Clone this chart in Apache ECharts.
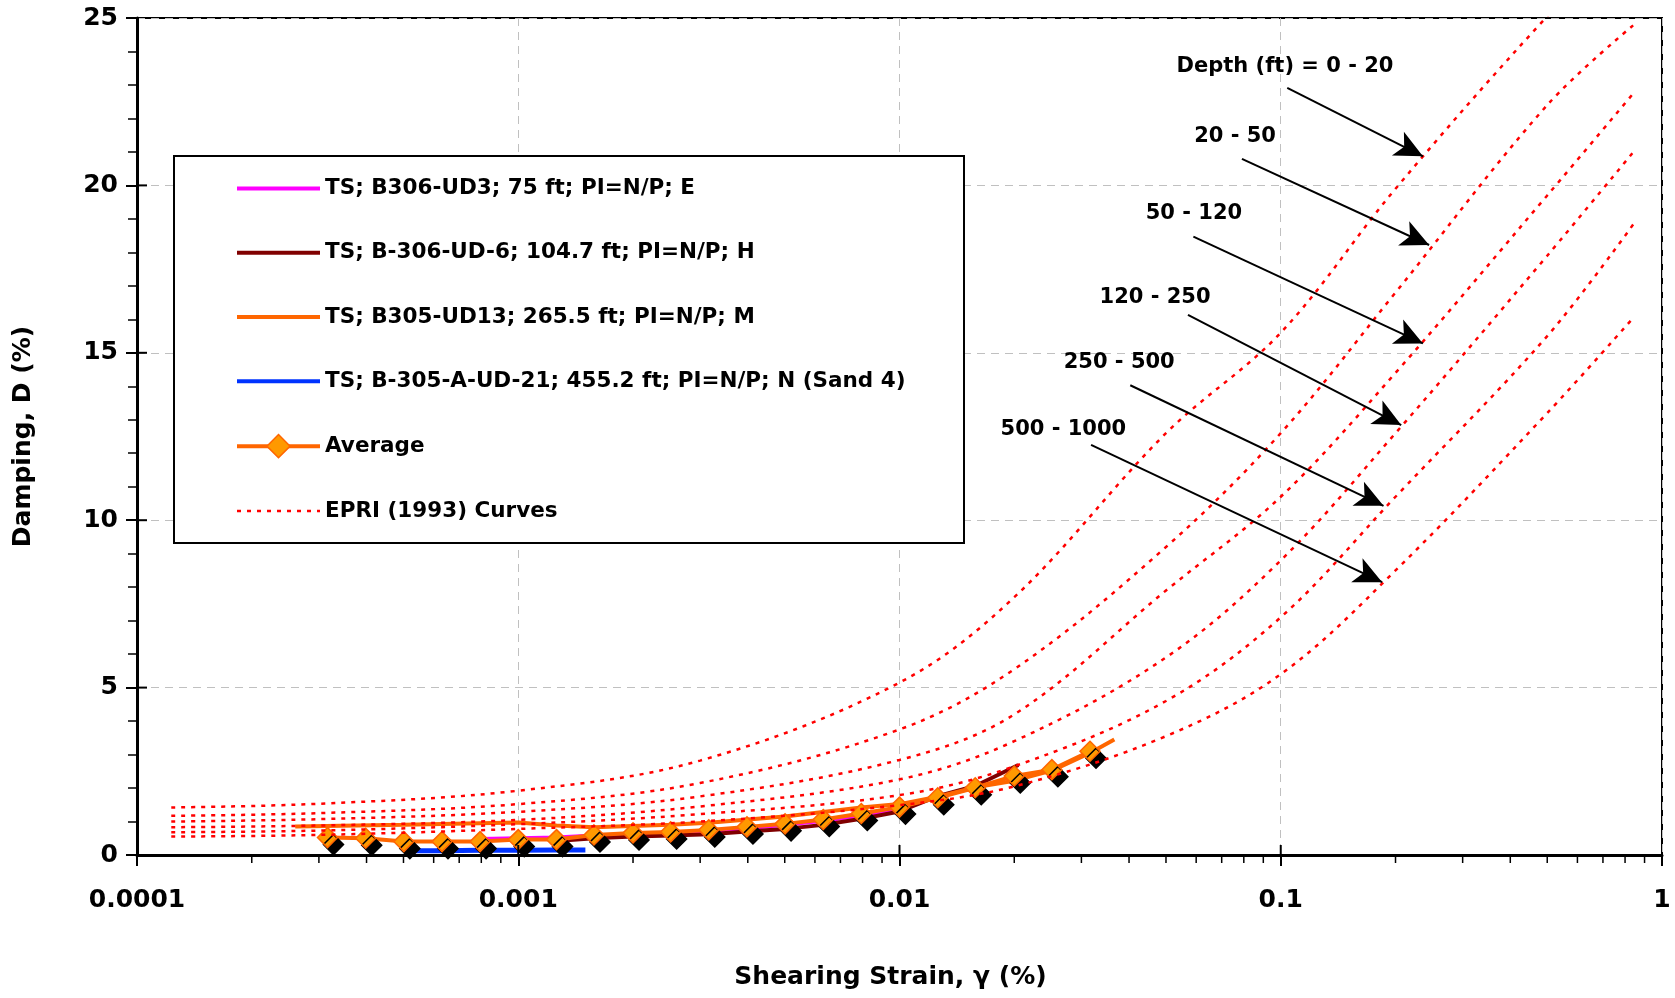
<!DOCTYPE html>
<html><head><meta charset="utf-8">
<script src="https://cdn.jsdelivr.net/npm/echarts@6/dist/echarts.min.js"></script>
<style>html,body{margin:0;padding:0;background:#fff;}#c{width:1675px;height:998px;}</style>
</head><body><div id="c"></div>
<script>
// ---------- tick labels ----------
const xTickLabels = ['0.0001', '0.001', '0.01', '0.1', '1'];

// ---------- EPRI (1993) curves ----------
const epriStrain      = [0.000123, 0.0003, 0.001, 0.003, 0.01, 0.02, 0.05, 0.1, 0.2, 0.5, 0.84];
const epriDepth0_20   = [1.42, 1.53, 1.92, 2.82, 5.15, 7.7, 12.6, 15.6, 19.9, 25.05, 27.6];
const epriDepth20_50  = [1.17, 1.25, 1.52, 2.15, 3.75, 5.55, 9.2, 12.6, 16.8, 22.4, 24.78];
const epriDepth50_120 = [1.00, 1.07, 1.29, 1.75, 2.84, 4.2, 7.9, 10.7, 14.4, 19.7, 22.74];
const epriDepth120_250= [0.83, 0.88, 1.05, 1.45, 2.26, 3.4, 5.9, 8.8, 12.6, 17.9, 20.99];
const epriDepth250_500= [0.68, 0.73, 0.92, 1.22, 1.79, 2.65, 4.6, 7.1, 10.7, 15.5, 18.83];
const epriDepth500_1000=[0.55, 0.60, 0.78, 1.00, 1.49, 2.05, 3.55, 5.4, 8.5, 13.2, 16.04];

// ---------- test data ----------
const b306ud3Strain  = [0.000794, 0.001, 0.00126, 0.00158, 0.002, 0.00251, 0.00316, 0.00398, 0.00501, 0.00631, 0.00794, 0.01];
const b306ud3Damping = [0.48, 0.50, 0.52, 0.58, 0.62, 0.66, 0.72, 0.80, 0.90, 1.02, 1.18, 1.32];

const b306ud6Strain  = [0.00126, 0.00158, 0.002, 0.00251, 0.00316, 0.00398, 0.00501, 0.00631, 0.00794, 0.01, 0.0126, 0.0158, 0.0205];
const b306ud6Damping = [0.42, 0.50, 0.55, 0.58, 0.62, 0.70, 0.78, 0.90, 1.08, 1.30, 1.76, 2.06, 2.69];

const b305ud13Strain  = [0.00026, 0.0005, 0.001, 0.00126, 0.00158, 0.0025, 0.00316, 0.005, 0.00794, 0.01, 0.0126, 0.0158, 0.02, 0.0251, 0.0316, 0.0366];
const b305ud13Damping = [0.85, 0.90, 0.97, 0.88, 0.83, 0.90, 0.96, 1.15, 1.42, 1.52, 1.74, 2.02, 2.22, 2.52, 3.05, 3.45];

const b305aud21Strain  = [0.0005, 0.000631, 0.000794, 0.001, 0.00126, 0.0015];
const b305aud21Damping = [0.13, 0.13, 0.14, 0.14, 0.15, 0.15];

const avgStrain  = [0.000316, 0.000398, 0.000501, 0.000631, 0.000794, 0.001, 0.00126, 0.00158, 0.002, 0.00251, 0.00316, 0.00398, 0.00501, 0.00631, 0.00794, 0.01, 0.0126, 0.0158, 0.02, 0.0251, 0.0316];
const avgDamping = [0.52, 0.50, 0.40, 0.40, 0.40, 0.46, 0.46, 0.60, 0.66, 0.69, 0.75, 0.84, 0.93, 1.06, 1.24, 1.43, 1.71, 2.01, 2.36, 2.55, 3.10];

// ---------- annotations (data coordinates) ----------
const annoLabels   = ['Depth (ft) = 0 - 20', '20 - 50', '50 - 120', '120 - 250', '250 - 500', '500 - 1000'];
const annoTextPos  = [[0.1026, 23.56], [0.0759, 21.45], [0.0592, 19.15], [0.0468, 16.66], [0.0377, 14.70], [0.0269, 12.71]];
const arrowStart   = [[0.104, 22.91], [0.0791, 20.79], [0.059, 18.47], [0.0571, 16.13], [0.0403, 14.03], [0.0318, 12.25]];
const arrowEnd     = [[0.236, 20.87], [0.245, 18.22], [0.236, 15.28], [0.207, 12.84], [0.186, 10.43], [0.1845, 8.15]];

const seriesNames = ['TS; B306-UD3; 75 ft; PI=N/P; E', 'TS; B-306-UD-6; 104.7 ft; PI=N/P; H',
  'TS; B305-UD13; 265.5 ft; PI=N/P; M', 'TS; B-305-A-UD-21; 455.2 ft; PI=N/P; N (Sand 4)',
  'Average', 'EPRI (1993) Curves'];
const seriesColors = ['#FF00FF', '#800000', '#FF6600', '#0033FF', '#FF6600', '#FF0000'];

const FONT = "'DejaVu Sans', sans-serif";
const zip = (xs, ys) => xs.map((x, i) => [x, ys[i]]);

// axis decorations: [value, kind] 0 = x minor tick, 1 = x major inner tick, 2 = y major inner tick
const axisDecor = [];
for (let k = -4; k < 0; k++) for (let m = 2; m <= 9; m++) axisDecor.push([m * Math.pow(10, k), 0]);
[0.001, 0.01, 0.1].forEach(v => axisDecor.push([v, 1]));
[5, 10, 15, 20].forEach(v => axisDecor.push([v, 2]));

const epriSets = [epriDepth0_20, epriDepth20_50, epriDepth50_120, epriDepth120_250, epriDepth250_500, epriDepth500_1000];

const dataLine = (i, xs, ys, width) => ({
  type: 'line', name: seriesNames[i], data: zip(xs, ys), symbol: 'none', z: 2,
  lineStyle: { color: seriesColors[i], width }, itemStyle: { color: seriesColors[i] }
});

const series = [
  dataLine(0, b306ud3Strain, b306ud3Damping, 4),
  dataLine(1, b306ud6Strain, b306ud6Damping, 4),
  dataLine(2, b305ud13Strain, b305ud13Damping, 4),
  dataLine(3, b305aud21Strain, b305aud21Damping, 5),
  {
    type: 'line', name: seriesNames[4], data: zip(avgStrain, avgDamping), z: 2,
    symbol: 'diamond', symbolSize: 20, showSymbol: true,
    lineStyle: { color: '#FF6600', width: 4 },
    itemStyle: { color: '#FF9900', borderColor: '#FF6600', borderWidth: 1.5,
      shadowColor: '#000', shadowOffsetX: 6, shadowOffsetY: 7, shadowBlur: 0 }
  }
];
epriSets.forEach(ys => series.push({
  type: 'line', name: seriesNames[5], data: zip(epriStrain, ys), symbol: 'none', smooth: 0.35, z: 3,
  lineStyle: { color: '#FF0000', width: 2.5, type: [4, 6] }, itemStyle: { color: '#FF0000' }
}));
series.push({
  type: 'scatter', name: 'annotations', z: 6, silent: true,
  data: annoTextPos.map((p, i) => ({ value: p, name: annoLabels[i] })),
  symbolSize: 1, itemStyle: { color: 'rgba(255,255,255,0)' },
  label: { show: true, position: 'inside', formatter: '{b}', fontFamily: FONT, fontWeight: 'bold',
    fontSize: 21, color: '#000', opacity: 1, textBorderWidth: 0 },
  markLine: {
    silent: true, symbol: ['none', 'arrow'], symbolSize: [20, 28],
    lineStyle: { color: '#000', width: 2, type: 'solid' }, label: { show: false },
    data: arrowStart.map((s, i) => [{ coord: s }, { coord: arrowEnd[i] }])
  }
});
series.push({
  type: 'custom', name: 'axisDecor', silent: true, clip: false, z: 6,
  data: axisDecor,
  renderItem: (params, api) => {
    const v = api.value(0), kind = api.value(1);
    let shape;
    if (kind === 0) { const p = api.coord([v, 0]); shape = { x1: p[0], y1: p[1], x2: p[0], y2: p[1] + 8 }; }
    else if (kind === 1) { const p = api.coord([v, 0]); shape = { x1: p[0], y1: p[1], x2: p[0], y2: p[1] - 10 }; }
    else { const p = api.coord([0.0001, v]); shape = { x1: p[0], y1: p[1], x2: p[0] + 10, y2: p[1] }; }
    return { type: 'line', shape, style: { stroke: '#000', lineWidth: kind === 0 ? 1.5 : 2 } };
  }
});

const legendData = seriesNames.map((n, i) => ({
  name: n,
  itemStyle: i === 4 ? { color: '#FF9900', borderColor: '#FF6600', borderWidth: 1.5, shadowColor: 'rgba(0,0,0,0)', shadowOffsetX: 0, shadowOffsetY: 0 }
                     : { opacity: 0 },
  lineStyle: i === 5 ? { color: '#FF0000', width: 2.5, type: [4, 6] } : { color: seriesColors[i], width: 4 }
}));

const chart = echarts.init(document.getElementById('c'));
chart.setOption({
  animation: false,
  backgroundColor: '#fff',
  grid: { left: 137, right: 13, top: 18, bottom: 143, show: true, borderColor: '#000', borderWidth: 2 },
  xAxis: {
    type: 'log', logBase: 10, min: 0.0001, max: 1,
    name: 'Shearing Strain, γ (%)', nameLocation: 'middle', nameGap: 110,
    nameTextStyle: { fontFamily: FONT, fontWeight: 'bold', fontSize: 25, color: '#000', padding: [0, 18, 0, 0] },
    axisLine: { onZero: false, lineStyle: { color: '#000', width: 3 } },
    axisTick: { show: true, length: 11, lineStyle: { color: '#000', width: 2 } },
    axisLabel: { margin: 33, fontFamily: FONT, fontWeight: 'bold', fontSize: 25, color: '#000',
      formatter: v => xTickLabels[Math.round(Math.log10(v)) + 4] },
    splitLine: { show: true, lineStyle: { color: '#C0C0C0', type: [8, 6], width: 1 } }
  },
  yAxis: {
    type: 'value', min: 0, max: 25, interval: 5,
    name: 'Damping, D (%)', nameLocation: 'middle', nameGap: 101,
    nameTextStyle: { fontFamily: FONT, fontWeight: 'bold', fontSize: 25, color: '#000' },
    axisLine: { show: true, lineStyle: { color: '#000', width: 3 } },
    axisTick: { show: true, length: 11, lineStyle: { color: '#000', width: 2 } },
    minorTick: { show: true, splitNumber: 5, length: 9, lineStyle: { color: '#000', width: 1.5 } },
    axisLabel: { margin: 19, fontFamily: FONT, fontWeight: 'bold', fontSize: 25, color: '#000' },
    splitLine: { show: true, lineStyle: { color: '#C0C0C0', type: [8, 6], width: 1 } }
  },
  legend: {
    data: legendData, orient: 'vertical', left: 235, top: 177, padding: 0,
    itemWidth: 83, itemHeight: 29, itemGap: 41, selectedMode: false, z: 8,
    textStyle: { fontFamily: FONT, fontWeight: 'bold', fontSize: 21.5, color: '#000' }
  },
  graphic: [{
    type: 'rect', z: 7, shape: { x: 174, y: 156, width: 790, height: 387 },
    style: { fill: '#fff', stroke: '#000', lineWidth: 2 }
  }],
  series
});
</script></body></html>
